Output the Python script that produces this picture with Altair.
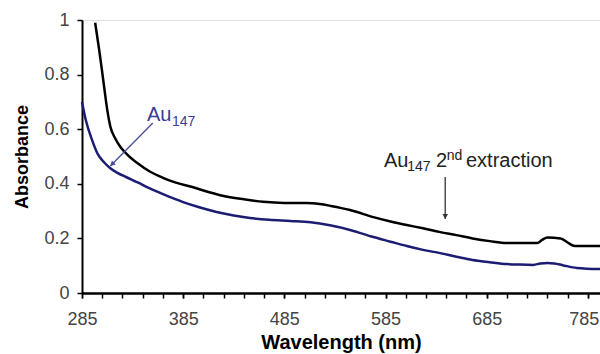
import altair as alt
import pandas as pd

# ---- data ----
ext_wl = [298, 302, 306, 310, 313, 318, 323, 329, 340, 352, 365, 377, 394, 410, 424, 445, 464, 485,
          507, 520, 531, 550, 573, 590, 606, 622, 639, 655, 671, 688, 705, 735, 740, 745, 758, 765, 772, 797]
ext_abs = [0.99, 0.89, 0.78, 0.67, 0.61, 0.565, 0.535, 0.51, 0.475, 0.445, 0.422, 0.405, 0.388, 0.37, 0.356,
           0.343, 0.334, 0.33, 0.33, 0.326, 0.319, 0.304, 0.278, 0.262, 0.249, 0.237, 0.223, 0.212, 0.2,
           0.19, 0.183, 0.183, 0.195, 0.203, 0.2, 0.185, 0.172, 0.172]

au_wl = [285, 289, 295, 300, 307, 313, 320, 329, 340, 352, 365, 385, 400, 418, 435, 451, 470, 491, 511,
         530, 550, 573, 590, 606, 622, 639, 655, 671, 688, 705, 718, 731, 738, 745, 752, 760, 774, 797]
au_abs = [0.70, 0.63, 0.56, 0.513, 0.478, 0.457, 0.44, 0.424, 0.405, 0.383, 0.362, 0.333, 0.315, 0.297,
          0.284, 0.275, 0.268, 0.264, 0.259, 0.248, 0.231, 0.205, 0.188, 0.172, 0.158, 0.146, 0.133, 0.121,
          0.113, 0.106, 0.104, 0.103, 0.108, 0.11, 0.108, 0.102, 0.092, 0.088]

x_minor_ticks = list(range(285, 786, 20))
x_labels = [285, 385, 485, 585, 685, 785]
y_ticks = [0, 0.2, 0.4, 0.6, 0.8, 1]

# annotation texts (positions in data units)
ann_text = ["Au", "147", "Au", "147", "2", "nd", "extraction"]
ann_wl = [349.2, 374, 583.5, 606.5, 635, 645.5, 664.5]
ann_abs = [0.63, 0.61, 0.462, 0.446, 0.462, 0.487, 0.462]
ann_size = [20, 14, 20, 14, 20, 14, 20]
ann_col = ["#3b3b98", "#3b3b98", "#222222", "#222222", "#222222", "#222222", "#222222"]

arrow_wl = [355, 313, 644, 644]
arrow_abs = [0.623, 0.465, 0.425, 0.271]
arrow_id = ["a", "a", "b", "b"]
arrow_col = ["#4a4aa0", "#4a4aa0", "#333333", "#333333"]
head_angle = [225, 180]

# ---- frames ----
curves = pd.concat([
    pd.DataFrame({"wl": ext_wl, "abs": ext_abs, "s": "ext"}),
    pd.DataFrame({"wl": au_wl, "abs": au_abs, "s": "au"}),
])
ann = pd.DataFrame({"t": ann_text, "wl": ann_wl, "abs": ann_abs, "size": ann_size, "col": ann_col})
arrows = pd.DataFrame({"wl": arrow_wl, "abs": arrow_abs, "id": arrow_id, "col": arrow_col})
heads = pd.DataFrame({"wl": [arrow_wl[1], arrow_wl[3]], "abs": [arrow_abs[1], arrow_abs[3]],
                      "ang": head_angle, "col": [arrow_col[1], arrow_col[3]]})

xscale = alt.Scale(domain=[285, 797], nice=False, zero=False)
yscale = alt.Scale(domain=[0, 1], nice=False)

xaxis = alt.Axis(values=x_labels, orient="bottom", format="d",
                 title="Wavelength (nm)", grid=False, domainColor="black", domainWidth=2,
                 tickColor="black", tickWidth=1.5, tickSize=5, labelFont="Liberation Sans",
                 labelFontSize=18, labelColor="#444444", labelPadding=12, labelOverlap=False,
                 labelBound=False, labelFlush=False,
                 labelOffset={"condition": {"test": "datum.value >= 785", "value": -4}, "value": 0},
                 titleFont="Liberation Sans",
                 titleFontSize=20, titleFontWeight="bold", titleColor="black", titlePadding=4)
xaxis_minor = alt.Axis(values=x_minor_ticks, orient="bottom", labels=False, title=None, grid=False,
                       domainColor="black", domainWidth=2, tickColor="black", tickWidth=1.5, tickSize=5)
yaxis = alt.Axis(values=y_ticks, format="~g", title="Absorbance", grid=False, domainColor="black",
                 domainWidth=2, tickColor="black", tickWidth=1.5, tickSize=5, labelOverlap=False,
                 labelFont="Liberation Sans", labelFontSize=18, labelColor="#444444", labelPadding=8,
                 titleFont="Liberation Sans", titleFontSize=18, titleFontWeight="bold",
                 titleColor="black", titlePadding=12)

lines = alt.Chart(curves).mark_line(strokeWidth=2.5, interpolate="monotone").encode(
    x=alt.X("wl:Q", scale=xscale, axis=xaxis),
    y=alt.Y("abs:Q", scale=yscale, axis=yaxis),
    color=alt.Color("s:N", scale=alt.Scale(domain=["ext", "au"], range=["#000000", "#1c1c72"]), legend=None),
    detail="s:N",
)

arrow_lines = alt.Chart(arrows).mark_line(strokeWidth=1.3).encode(
    x=alt.X("wl:Q", scale=xscale, axis=xaxis_minor),
    y=alt.Y("abs:Q", scale=yscale),
    detail="id:N", color=alt.Color("col:N", scale=None),
)

arrow_heads = alt.Chart(heads).mark_point(
    shape="M0,0 L-0.55,1 L0.55,1 Z", filled=True, size=100, opacity=1
).encode(
    x=alt.X("wl:Q", scale=xscale, axis=None), y=alt.Y("abs:Q", scale=yscale),
    angle=alt.Angle("ang:Q", scale=None), color=alt.Color("col:N", scale=None),
)

texts = alt.Chart(ann).mark_text(align="left", baseline="alphabetic", font="Liberation Sans").encode(
    x=alt.X("wl:Q", scale=xscale, axis=None), y=alt.Y("abs:Q", scale=yscale),
    text="t:N", size=alt.Size("size:Q", scale=None, legend=None),
    color=alt.Color("col:N", scale=None),
)

chart = alt.layer(lines, arrow_lines, arrow_heads, texts).resolve_axis(x="independent").properties(
    width=518, height=273, padding={"left": 82, "top": 20, "right": 0, "bottom": 61},
    autosize=alt.AutoSizeParams(type="none"),
).configure_view(stroke=None).configure(background="white")

chart.save("out.html", embed_options={"renderer": "svg", "actions": False})
